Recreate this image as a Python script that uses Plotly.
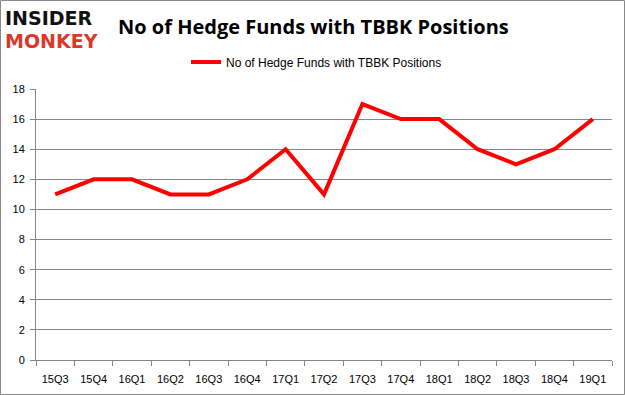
import plotly.graph_objects as go

quarters = ["15Q3", "15Q4", "16Q1", "16Q2", "16Q3", "16Q4", "17Q1", "17Q2",
            "17Q3", "17Q4", "18Q1", "18Q2", "18Q3", "18Q4", "19Q1"]
hedge_funds = [11, 12, 12, 11, 11, 12, 14, 11, 17, 16, 16, 14, 13, 14, 16]
series_name = "No of Hedge Funds with TBBK Positions"
y_ticks = [0, 2, 4, 6, 8, 10, 12, 14, 16, 18]

W, H = 625, 395
ML, MR, MT, MB = 36, 13, 89, 35
PW, PH = W - ML - MR, H - MT - MB

def px_x(x):
    return (x - ML) / PW

def px_y(y):
    return (H - MB - y) / PH

fig = go.Figure()
fig.add_trace(go.Scatter(
    x=quarters, y=hedge_funds, mode="lines", name=series_name,
    line=dict(color="#ff0000", width=4),
))

fig.update_layout(
    width=W, height=H,
    margin=dict(l=ML, r=MR, t=MT, b=MB),
    paper_bgcolor="white", plot_bgcolor="white",
    font=dict(family="Liberation Sans, Arial", size=11, color="#000000"),
    showlegend=True,
    legend=dict(orientation="h", x=px_x(186), xanchor="left", y=px_y(62), yanchor="middle",
                font=dict(size=12), itemwidth=30, bgcolor="rgba(0,0,0,0)"),
    xaxis=dict(
        type="category", showgrid=False, showline=True, linecolor="#868686", linewidth=1,
        ticks="outside", tickson="boundaries", ticklen=5, tickcolor="#868686",
        tickfont=dict(size=11), range=[-0.5, len(quarters) - 0.5],
        ticklabelstandoff=9, automargin=False,
    ),
    yaxis=dict(
        range=[0, 18], tickvals=y_ticks, showgrid=True, gridcolor="#868686", gridwidth=1,
        showline=True, linecolor="#868686", linewidth=1, ticks="outside", ticklen=5,
        tickcolor="#868686", tickfont=dict(size=11), zeroline=False,
        ticklabelstandoff=3, automargin=False,
    ),
    shapes=[dict(type="rect", xref="paper", yref="paper",
                 x0=px_x(0.5), x1=px_x(W - 0.5), y0=px_y(H - 0.5), y1=px_y(0.5),
                 line=dict(color="#888888", width=1), layer="below")],
    annotations=[
        dict(text="<b>No of Hedge Funds with TBBK Positions</b>", xref="paper", yref="paper",
             x=px_x(313), y=px_y(26), xanchor="center", yanchor="middle", showarrow=False,
             font=dict(family="Open Sans, Liberation Sans", size=20, color="#000000")),
        dict(text="<b>INSIDER</b>", xref="paper", yref="paper",
             x=px_x(3), y=px_y(18), xanchor="left", yanchor="middle", showarrow=False,
             font=dict(family="DejaVu Sans", size=19, color="#111111")),
        dict(text="<b>MONKEY</b>", xref="paper", yref="paper",
             x=px_x(3), y=px_y(41), xanchor="left", yanchor="middle", showarrow=False,
             font=dict(family="DejaVu Sans", size=19, color="#d9392a")),
    ],
)

fig.write_html("out.html", config={"displayModeBar": False},
               post_script="document.body.style.margin='0';")
